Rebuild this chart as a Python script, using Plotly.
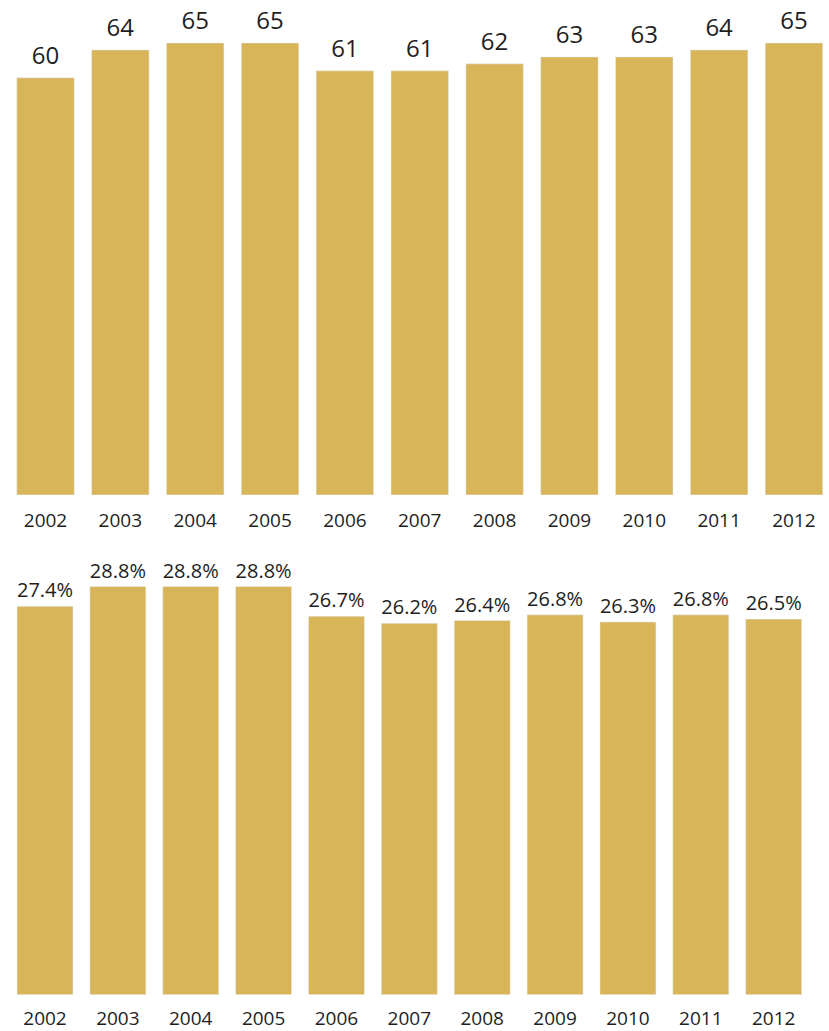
import plotly.graph_objects as go

years = ["2002", "2003", "2004", "2005", "2006", "2007", "2008", "2009", "2010", "2011", "2012"]
counts = [60, 64, 65, 65, 61, 61, 62, 63, 63, 64, 65]
shares = [27.4, 28.8, 28.8, 28.8, 26.7, 26.2, 26.4, 26.8, 26.3, 26.8, 26.5]

BAR = "#D9B55A"
TXT = "#1e1e1e"
FONT = "Open Sans"
W, H = 829, 1031

fig = go.Figure()
fig.add_trace(go.Bar(x=years, y=counts, marker_color=BAR, xaxis="x", yaxis="y",
                     hoverinfo="skip"))
# value labels above the top bars (invisible markers give the text offset)
fig.add_trace(go.Scatter(x=years, y=counts, xaxis="x", yaxis="y", mode="markers+text",
                         text=[str(v) for v in counts], textposition="top center",
                         marker=dict(size=11, color="rgba(0,0,0,0)"),
                         cliponaxis=False,
                         textfont=dict(family=FONT, size=24, color=TXT),
                         hoverinfo="skip"))
fig.add_trace(go.Bar(x=years, y=shares, marker_color=BAR, xaxis="x2", yaxis="y2",
                     text=[f"{v:.1f}%" for v in shares], textposition="outside",
                     cliponaxis=False, constraintext="none",
                     textfont=dict(family=FONT, size=20, color=TXT),
                     hoverinfo="skip"))

top_base = 498.3
top_scale = 7.0
bot_base = 1001.5
bot_top = 540
bot_scale = 14.27

fig.update_layout(
    width=W, height=H,
    margin=dict(l=0, r=0, t=0, b=0),
    paper_bgcolor="white", plot_bgcolor="white",
    showlegend=False,
    bargap=0.232,
    font=dict(family=FONT, color=TXT),
    xaxis=dict(domain=[0, 1], anchor="y", range=[-0.608, 10.468], showgrid=False,
               showline=False, zeroline=False, ticks="", fixedrange=True,
               ticklabelstandoff=12,
               tickfont=dict(family=FONT, size=19, color=TXT)),
    yaxis=dict(domain=[(H - top_base) / H, 1], anchor="x",
               range=[0, top_base / top_scale], visible=False, fixedrange=True),
    xaxis2=dict(domain=[0, 1], anchor="y2", range=[-0.6175, 10.759], showgrid=False,
                showline=False, zeroline=False, ticks="", fixedrange=True,
                ticklabelstandoff=10,
                tickfont=dict(family=FONT, size=19, color=TXT)),
    yaxis2=dict(domain=[(H - bot_base) / H, (H - bot_top) / H], anchor="x2",
                range=[0, (bot_base - bot_top) / bot_scale], visible=False, fixedrange=True),
)

fig.write_html("out.html", config={"displayModeBar": False})
